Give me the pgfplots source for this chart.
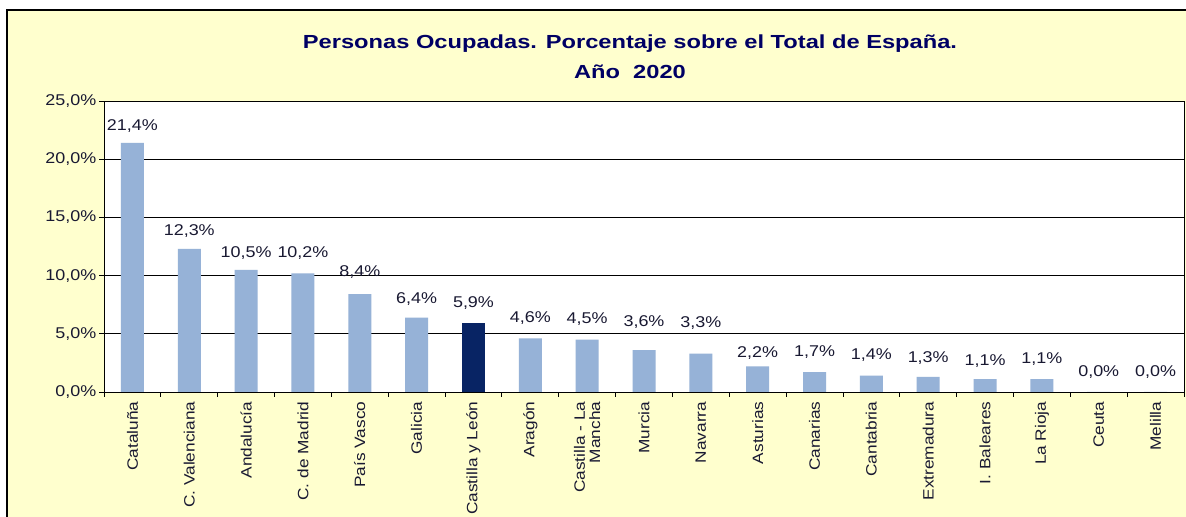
\documentclass[border=0pt]{standalone}
\usepackage{fontspec}
\setmainfont{Liberation Sans}[FakeStretch=1.15]
\newfontfamily\titlefont{Liberation Sans}[FakeStretch=1.25]
\usepackage{pgfplots}
\usepackage{pgfplotstable}
\pgfplotsset{compat=1.18}
\definecolor{cream}{RGB}{255,255,206}
\definecolor{lightbar}{RGB}{150,178,215}
\definecolor{darkbar}{RGB}{8,36,100}
\definecolor{navy}{RGB}{0,0,100}
\definecolor{lbl}{RGB}{25,25,50}
\newcommand\labfont{\fontsize{11.25}{11.5}\selectfont}
\newcommand\numfont{\fontsize{11.7}{12}\selectfont}
% x = category, y = percentage, dy = label offset (pt) above bar top
\pgfplotstableread{
x  y    dy
0  21.4 9.2
1  12.3 10.0
2  10.5 9.2
3  10.2 12.2
4  8.4  13.0
5  6.4  10.7
7  4.6  12.2
8  4.5  12.2
9  3.6  17.5
10 3.3  19.7
11 2.2  7.0
12 1.7  11.5
13 1.4  12.2
14 1.3  10.7
15 1.1  10.0
16 1.1  11.5
17 0.0  11.5
18 0.0  11.5
}\lighttable
\pgfplotstableread{
x  y    dy
6  5.9  11.5
}\darktable
\begin{document}
\begin{tikzpicture}[x=0.75pt,y=0.75pt]
\useasboundingbox (0,0) rectangle (1186,517);
\fill[white] (0,0) rectangle (1186,517);
\fill[cream] (7,-5) rectangle (1195,507);
\draw[black, line width=1pt] (7,-5) -- (7,507) -- (1195,507);
\node[font=\titlefont\bfseries\fontsize{14.2}{15}\selectfont, text=navy] at (630,473) {Personas Ocupadas. Porcentaje sobre el Total de España.};
\node[font=\titlefont\bfseries\fontsize{14.2}{15}\selectfont, text=navy] at (630,445) {Año~~2020};
\begin{axis}[
  at={(78pt,93.75pt)}, anchor=south west,
  scale only axis, width=810pt, height=218.25pt,
  axis background/.style={fill=white},
  xmin=-0.5, xmax=18.5, ymin=0, ymax=25,
  ybar, bar width=17.25pt,
  xtick={0,...,18},
  minor xtick={-0.5,0.5,...,18.5},
  major x tick style={draw=none},
  tick align=outside, xtick pos=bottom, ytick pos=left,
  major tick length=3.75pt, minor tick length=3.75pt,
  tick style={black, line width=0.6pt},
  xticklabels={Cataluña, C. Valenciana, Andalucía, C. de Madrid, País Vasco, Galicia, Castilla y León, Aragón, {Castilla - La\\Mancha}, Murcia, Navarra, Asturias, Canarias, Cantabria, Extremadura, I. Baleares, La Rioja, Ceuta, Melilla},
  xticklabel style={rotate=90, anchor=east, align=right, font=\labfont, text=lbl},
  ytick={0,5,...,25},
  yticklabels={{0,0\%},{5,0\%},{10,0\%},{15,0\%},{20,0\%},{25,0\%}},
  yticklabel style={font=\numfont, text=lbl, xshift=1.5pt},
  ymajorgrids, grid style={black, line width=0.6pt},
  axis line style={black, line width=0.6pt},
  visualization depends on={\thisrow{dy} \as \dy},
  nodes near coords={\pgfmathprintnumber[fixed,fixed zerofill,precision=1,use comma,assume math mode=true]{\pgfplotspointmeta}\%},
  nodes near coords style={font=\numfont, text=lbl, anchor=base, yshift=\dy pt},
  clip=false,
]
\addplot[fill=lightbar, draw=none, bar shift=0pt] table[x=x, y=y] {\lighttable};
\addplot[fill=darkbar, draw=none, bar shift=0pt] table[x=x, y=y] {\darktable};
\end{axis}
\end{tikzpicture}
\end{document}
